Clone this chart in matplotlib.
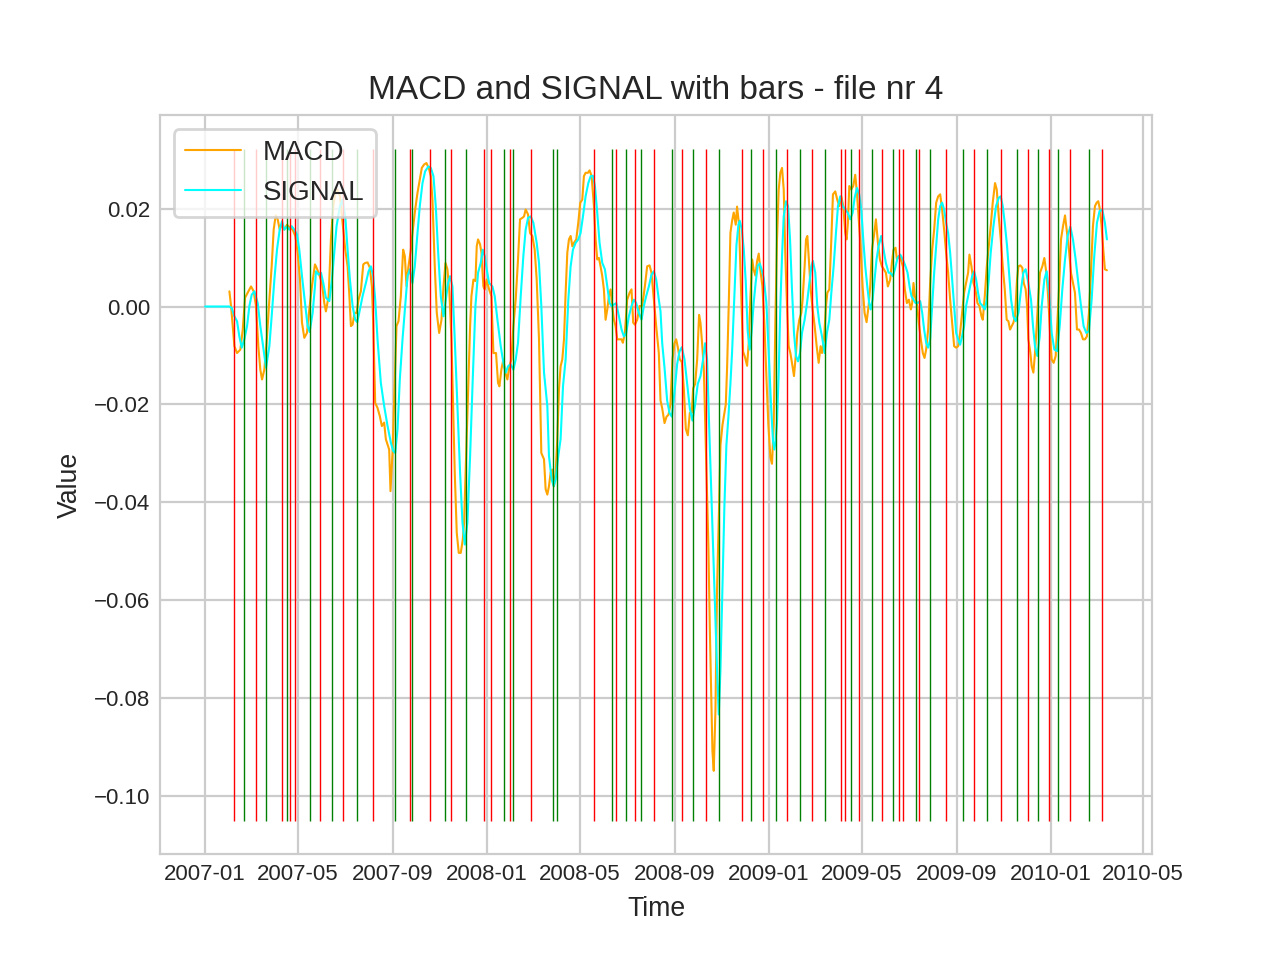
import numpy as np
import pandas as pd
import matplotlib
matplotlib.use("Agg")
import matplotlib.pyplot as plt
import matplotlib.dates as mdates
import seaborn as sns

# ---------------- data (day offsets from 2007-01-01, values) ----------------
START = "2007-01-01"

macd_pts = [
    (31.5, 0.0031), (33.7, 0.0), (38.0, -0.0081), (41.4, -0.0095), (45.7, -0.0088), (48.8, -0.0047),
    (51.8, 0.0018), (55.2, 0.0028), (59.5, 0.0041), (63.0, 0.0031), (66.0, 0.0001), (69.0, -0.0081),
    (71.6, -0.0129), (73.8, -0.0149), (76.8, -0.0129), (80.3, -0.0061), (83.3, 0.0014), (86.3, 0.0082),
    (88.9, 0.0157), (91.5, 0.0186), (94.1, 0.0178), (96.7, 0.0157), (99.2, 0.0167), (102.7, 0.0157),
    (106.2, 0.0167), (109.6, 0.0161), (113.5, 0.0157), (116.9, 0.0144), (120.0, 0.0110), (123.0, 0.0055),
    (125.6, -0.0033), (128.6, -0.0064), (132.0, -0.0054), (135.1, -0.0006), (138.5, 0.0041), (142.4, 0.0086),
    (143.7, 0.0082), (147.1, 0.0069), (151.5, 0.0048), (154.5, 0.0007), (156.6, -0.0010), (160.1, 0.0021),
    (163.1, 0.0137), (166.1, 0.0205), (168.7, 0.0229), (171.7, 0.0239), (174.8, 0.0225), (178.2, 0.0171),
    (181.7, 0.0116), (184.7, 0.0082), (186.8, 0.0028), (189.0, -0.0040), (191.2, -0.0037), (193.7, -0.0013),
    (196.3, -0.0013), (198.9, 0.0014), (201.9, 0.0031), (205.0, 0.0086), (207.6, 0.0089), (210.6, 0.0090),
    (213.6, 0.0079), (216.2, 0.0041), (217.9, -0.0033), (220.5, -0.0197), (223.5, -0.0207), (226.5, -0.0224),
    (229.1, -0.0244), (232.1, -0.0237), (234.3, -0.0271), (236.5, -0.0282), (238.6, -0.0292), (240.3, -0.0377),
    (242.9, -0.0299), (245.5, -0.0169), (248.1, -0.0040), (250.7, -0.0030), (253.7, 0.0021), (256.7, 0.0116),
    (258.9, 0.0103), (261.1, 0.0041), (263.6, 0.0082), (266.7, 0.0116), (268.8, 0.0150), (272.3, 0.0198),
    (275.3, 0.0232), (278.3, 0.0259), (280.9, 0.0283), (283.9, 0.0290), (286.9, 0.0293), (290.4, 0.0280),
    (292.6, 0.0266), (294.7, 0.0218), (297.7, 0.0082), (300.3, -0.0013), (303.4, -0.0054), (306.4, -0.0027),
    (309.0, 0.0041), (311.6, 0.0089), (314.1, 0.0076), (316.7, 0.0028), (319.3, -0.0067), (321.5, -0.0203),
    (323.6, -0.0339), (326.2, -0.0462), (328.8, -0.0503), (331.4, -0.0503), (334.0, -0.0476), (335.7, -0.0441),
    (338.3, -0.0305), (340.9, -0.0169), (343.5, -0.0040), (345.2, 0.0021), (347.8, 0.0055), (350.4, 0.0052),
    (352.1, 0.0123), (353.8, 0.0137), (356.4, 0.0127), (358.2, 0.0110), (360.7, 0.0041), (362.5, 0.0035),
    (365.0, 0.0055), (368.1, 0.0035), (371.1, 0.0021), (373.7, -0.0095), (377.1, -0.0095), (379.7, -0.0156),
    (381.5, -0.0163), (384.0, -0.0129), (386.6, -0.0108), (389.2, -0.0135), (391.8, -0.0149), (394.4, -0.0122),
    (397.0, -0.0108), (399.6, -0.0040), (402.6, 0.0014), (405.6, 0.0096), (408.2, 0.0178), (411.2, 0.0181),
    (413.4, 0.0184), (415.5, 0.0198), (418.6, 0.0188), (421.2, 0.0150), (424.2, 0.0144), (427.2, 0.0116),
    (429.8, 0.0055), (432.8, -0.0067), (435.8, -0.0299), (439.3, -0.0312),
    (441.4, -0.0373), (443.6, -0.0384), (445.7, -0.0367), (447.9, -0.0339), (450.1, -0.0333), (452.2, -0.0367),
    (454.4, -0.0339), (456.5, -0.0271), (458.7, -0.0169), (460.8, -0.0122), (463.0, -0.0108), (465.2, -0.0067),
    (467.3, 0.0028), (469.5, 0.0110), (471.6, 0.0137), (473.8, 0.0144), (476.0, 0.0123), (478.1, 0.0130),
    (481.1, 0.0137), (483.7, 0.0171), (486.3, 0.0212), (488.9, 0.0218), (491.0, 0.0266), (493.2, 0.0273),
    (496.2, 0.0273), (498.4, 0.0278), (501.0, 0.0266), (504.0, 0.0205), (506.2, 0.0137), (508.3, 0.0096),
    (510.5, 0.0099), (512.6, 0.0082), (514.8, 0.0062), (516.9, 0.0035), (519.1, -0.0027), (521.3, -0.0006),
    (523.4, 0.0021), (525.6, 0.0035), (527.7, 0.0001), (529.9, -0.0027), (532.0, -0.0040), (534.2, -0.0067),
    (539.8, -0.0067), (541.5, -0.0074), (544.1, -0.0054), (547.1, 0.0014), (550.2, 0.0028), (552.7, 0.0035),
    (554.9, -0.0033), (557.1, -0.0037), (560.1, -0.0027), (563.1, 0.0001), (566.6, 0.0001), (570.0, 0.0041),
    (573.0, 0.0082), (576.1, 0.0084), (578.6, 0.0069), (581.7, 0.0014), (584.7, -0.0040), (588.1, -0.0095),
    (590.3, -0.0192), (592.5, -0.0208), (595.5, -0.0238), (598.1, -0.0225), (600.6, -0.0221), (603.2, -0.0200),
    (605.8, -0.0108), (608.4, -0.0075), (610.6, -0.0067), (612.7, -0.0083), (615.3, -0.0108), (617.9, -0.0113),
    (620.5, -0.0167), (623.1, -0.0250), (625.7, -0.0263), (628.3, -0.0217), (630.8, -0.0217), (632.6, -0.0167),
    (635.2, -0.0158), (637.8, -0.0108), (640.3, -0.0017), (642.1, -0.0033), (644.2, -0.0075), (646.4, -0.0125),
    (649.0, -0.0283), (650.7, -0.0392), (652.4, -0.0492), (654.2, -0.0658), (655.9, -0.0783), (657.6, -0.0908),
    (659.3, -0.0948), (661.5, -0.0825), (663.6, -0.0575), (666.2, -0.0408), (668.0, -0.0283), (670.6, -0.0242),
    (672.3, -0.0225), (674.9, -0.0200), (676.6, -0.0125), (678.8, 0.0008), (680.9, 0.0150), (683.1, 0.0175),
    (685.2, 0.0192), (687.8, 0.0167), (689.5, 0.0204), (692.1, 0.0167), (694.7, 0.0033), (697.3, -0.0092),
    (699.9, -0.0104), (702.5, -0.0121), (704.6, -0.0075), (706.8, 0.0017), (709.0, 0.0096), (711.1, 0.0075),
    (713.3, 0.0063), (715.4, 0.0092), (717.6, 0.0108), (719.7, 0.0075), (722.3, 0.0042), (724.9, -0.0033),
    (727.5, -0.0142), (730.1, -0.0242), (732.7, -0.0308), (734.8, -0.0321), (737.0, -0.0242),
    (739.2, -0.0027), (741.3, 0.0137), (743.5, 0.0239), (745.6, 0.0273), (747.8, 0.0283), (750.0, 0.0239),
    (752.1, 0.0103), (754.3, 0.0001), (756.4, -0.0081), (758.6, -0.0095), (760.7, -0.0115), (763.3, -0.0142),
    (765.9, -0.0095), (767.6, -0.0054), (770.2, -0.0027), (772.8, -0.0013), (774.5, 0.0014), (777.1, 0.0082),
    (778.9, 0.0137), (780.6, 0.0144), (782.3, 0.0103), (784.9, 0.0035), (787.5, -0.0006), (790.1, -0.0040),
    (792.7, -0.0081), (795.3, -0.0115), (797.8, -0.0081), (799.6, -0.0095), (802.2, -0.0067), (804.8, 0.0001),
    (806.5, 0.0028), (809.1, 0.0035), (811.7, 0.0137), (813.8, 0.0229), (816.8, 0.0235), (819.4, 0.0218),
    (822.0, 0.0205), (824.6, 0.0225), (827.2, 0.0205), (829.8, 0.0150), (831.5, 0.0137), (833.2, 0.0171),
    (835.0, 0.0246), (837.5, 0.0239), (840.1, 0.0246), (842.7, 0.0269), (844.9, 0.0232), (847.0, 0.0184),
    (849.6, 0.0123), (852.2, 0.0041), (854.8, -0.0013), (857.4, -0.0032), (860.0, 0.0001), (862.1, 0.0041),
    (864.3, 0.0116), (866.9, 0.0144), (869.5, 0.0178), (872.1, 0.0130), (874.7, 0.0096), (877.2, 0.0082),
    (879.8, 0.0076), (882.4, 0.0069), (885.0, 0.0041),
    (888.0, 0.0055), (890.2, 0.0089), (892.3, 0.0116), (894.9, 0.0120), (896.7, 0.0096), (899.3, 0.0103),
    (901.8, 0.0096), (904.4, 0.0082), (907.0, 0.0035), (909.6, 0.0007), (912.2, 0.0014), (914.8, -0.0006),
    (916.5, 0.0007), (918.2, 0.0048), (919.9, 0.0021), (922.6, 0.0007), (925.1, -0.0033), (927.7, -0.0067),
    (930.3, -0.0095), (932.5, -0.0105), (934.6, -0.0088), (937.2, -0.0047), (939.8, 0.0048), (942.4, 0.0116),
    (945.0, 0.0157), (947.6, 0.0212), (950.2, 0.0225), (952.8, 0.0229), (955.3, 0.0198), (957.9, 0.0157),
    (960.5, 0.0110), (963.1, 0.0069), (965.7, 0.0014), (968.3, -0.0033), (970.9, -0.0081), (973.5, -0.0084),
    (976.1, -0.0081), (978.6, -0.0054), (981.2, -0.0013), (983.8, 0.0028), (986.4, 0.0048), (989.0, 0.0069),
    (990.7, 0.0106), (993.3, 0.0082), (995.9, 0.0048), (998.5, 0.0035), (1001.1, 0.0007), (1003.7, 0.0001),
    (1006.3, -0.0020), (1008.0, -0.0027), (1010.6, 0.0021), (1013.2, 0.0082), (1015.8, 0.0123), (1018.3, 0.0164),
    (1020.9, 0.0212), (1023.9, 0.0252), (1026.1, 0.0239), (1028.7, 0.0184), (1031.3, 0.0137), (1033.9, 0.0082),
    (1036.5, 0.0035),
    (1039.0, -0.0027), (1041.2, -0.0030), (1043.4, -0.0047), (1045.5, -0.0040), (1047.7, -0.0033), (1049.8, -0.0020),
    (1052.4, 0.0055), (1054.2, 0.0082), (1056.7, 0.0084), (1059.3, 0.0079), (1061.1, 0.0048), (1063.6, 0.0035),
    (1065.4, 0.0001), (1067.1, -0.0067), (1069.7, -0.0095), (1071.4, -0.0122), (1073.6, -0.0135), (1075.7, -0.0095),
    (1077.9, -0.0040), (1080.0, 0.0021), (1082.2, 0.0069), (1085.2, 0.0082), (1087.8, 0.0099), (1090.4, 0.0069),
    (1092.1, 0.0035), (1093.9, -0.0013), (1095.6, -0.0067), (1097.3, -0.0108), (1099.9, -0.0115), (1102.5, -0.0101),
    (1104.2, -0.0047), (1106.8, 0.0035), (1109.4, 0.0137), (1112.0, 0.0164), (1114.6, 0.0186), (1117.2, 0.0150),
    (1119.7, 0.0116), (1122.3, 0.0069), (1124.9, 0.0048), (1127.5, 0.0028), (1130.1, -0.0047), (1132.7, -0.0047),
    (1135.3, -0.0054), (1137.9, -0.0067), (1140.5, -0.0067), (1143.0, -0.0061), (1145.6, -0.0013), (1148.2, 0.0069),
    (1150.8, 0.0164), (1153.4, 0.0205), (1155.6, 0.0212), (1157.7, 0.0215), (1159.9, 0.0198), (1162.0, 0.0164),
    (1164.2, 0.0116), (1166.3, 0.0076), (1168.9, 0.0074),
]

signal_pts = [
    (0.0, 0.0), (31.5, 0.0), (34.5, -0.0003), (38.0, -0.0020), (41.4, -0.0030), (44.4, -0.0061), (47.5, -0.0084),
    (50.9, -0.0067), (54.4, -0.0040), (57.4, 0.0001), (60.4, 0.0024), (63.9, 0.0031), (68.2, 0.0007),
    (71.6, -0.0040), (75.1, -0.0081), (79.0, -0.0125), (83.3, -0.0081), (86.3, -0.0020), (89.8, 0.0055),
    (93.2, 0.0116), (96.7, 0.0157), (99.7, 0.0174), (102.7, 0.0157), (106.2, 0.0163), (109.2, 0.0157),
    (112.2, 0.0164), (115.6, 0.0157), (119.1, 0.0147), (122.1, 0.0116), (125.6, 0.0062), (129.5, 0.0007),
    (132.9, -0.0040), (135.5, -0.0052), (139.4, -0.0013), (142.4, 0.0041),
    (143.7, 0.0072), (147.1, 0.0065), (150.2, 0.0069), (153.2, 0.0048), (156.6, 0.0018), (161.0, 0.0011),
    (164.4, 0.0055), (167.4, 0.0110), (170.4, 0.0164), (174.8, 0.0205), (178.2, 0.0218), (181.7, 0.0184),
    (184.7, 0.0116), (187.7, 0.0055), (191.2, 0.0001), (194.6, -0.0027), (197.2, -0.0032), (200.7, -0.0006),
    (204.1, 0.0021), (208.4, 0.0048), (211.9, 0.0072), (214.9, 0.0082), (217.9, 0.0062), (220.5, 0.0014),
    (223.5, -0.0067), (227.8, -0.0156), (232.1, -0.0203), (236.5, -0.0244), (240.8, -0.0278), (243.8, -0.0295),
    (246.4, -0.0299), (249.4, -0.0251), (252.4, -0.0149), (255.9, -0.0067), (259.3, 0.0001), (262.4, 0.0062),
    (265.4, 0.0076), (268.8, 0.0048), (271.8, 0.0082), (275.3, 0.0150), (278.3, 0.0205), (281.8, 0.0252),
    (285.2, 0.0276), (289.5, 0.0286),
    (292.6, 0.0283), (296.0, 0.0266), (299.0, 0.0205), (302.1, 0.0110), (305.5, 0.0021), (309.0, -0.0020),
    (312.0, 0.0014), (315.0, 0.0048), (317.6, 0.0062), (320.6, 0.0041), (323.6, -0.0067), (327.1, -0.0203),
    (330.5, -0.0339), (333.6, -0.0441), (336.6, -0.0486), (340.0, -0.0441), (343.5, -0.0305), (346.9, -0.0149),
    (350.4, 0.0001), (353.8, 0.0069), (357.3, 0.0089), (359.9, 0.0116), (362.5, 0.0103), (365.0, 0.0076),
    (368.1, 0.0048), (372.4, 0.0041), (375.4, 0.0021), (378.9, -0.0027), (383.2, -0.0081), (386.6, -0.0115),
    (389.7, -0.0135), (392.7, -0.0122), (396.1, -0.0118), (399.6, -0.0129), (402.6, -0.0108), (405.6, -0.0074),
    (409.1, 0.0021), (412.5, 0.0103), (415.5, 0.0157), (418.6, 0.0181), (422.0, 0.0184), (425.5, 0.0171),
    (429.8, 0.0130), (432.8, 0.0089), (435.8, 0.0001), (439.3, -0.0135),
    (443.6, -0.0203), (445.7, -0.0305), (449.2, -0.0353), (451.8, -0.0367), (454.4, -0.0353), (457.8, -0.0305),
    (460.8, -0.0271), (463.9, -0.0163), (467.3, -0.0108), (470.8, 0.0014), (473.8, 0.0082), (476.8, 0.0116),
    (480.3, 0.0130), (483.7, 0.0137), (486.7, 0.0150), (489.8, 0.0184), (493.2, 0.0225), (496.7, 0.0252),
    (499.7, 0.0266), (502.7, 0.0267), (505.3, 0.0246), (508.3, 0.0191), (511.3, 0.0130), (514.8, 0.0089),
    (518.2, 0.0076), (521.3, 0.0041), (524.3, 0.0007), (526.9, 0.0001), (529.9, 0.0004), (532.9, 0.0007),
    (536.4, -0.0020), (539.8, -0.0047), (542.8, -0.0061), (545.8, -0.0054), (549.3, -0.0020), (552.7, 0.0001),
    (555.8, 0.0014), (558.8, 0.0007), (562.2, -0.0013), (565.7, -0.0027), (568.7, 0.0001), (571.7, 0.0021),
    (575.2, 0.0041), (578.6, 0.0065), (581.7, 0.0072), (584.7, 0.0055), (588.1, 0.0014),
    (590.3, -0.0010), (592.5, -0.0075), (595.5, -0.0125), (598.9, -0.0192), (601.9, -0.0217), (605.0, -0.0225),
    (608.4, -0.0175), (611.9, -0.0117), (614.9, -0.0092), (617.9, -0.0083), (621.4, -0.0108), (624.8, -0.0158),
    (628.3, -0.0208), (631.7, -0.0233), (635.2, -0.0200), (638.6, -0.0158), (642.1, -0.0142), (645.5, -0.0108),
    (648.1, -0.0075), (650.7, -0.0108), (653.3, -0.0242), (655.9, -0.0367), (658.5, -0.0492), (661.1, -0.0617),
    (663.6, -0.0742), (665.8, -0.0833), (668.0, -0.0742), (670.6, -0.0575), (673.1, -0.0408), (675.7, -0.0283),
    (678.3, -0.0225), (680.9, -0.0158), (683.1, -0.0092), (686.1, 0.0025), (688.7, 0.0125), (691.3, 0.0167),
    (693.0, 0.0175), (695.6, 0.0158), (698.2, 0.0117), (700.8, 0.0050), (703.3, -0.0050), (705.9, -0.0088),
    (708.5, -0.0050), (711.1, 0.0008), (713.7, 0.0050), (716.3, 0.0083), (718.9, 0.0088), (721.5, 0.0075),
    (724.1, 0.0058), (727.5, 0.0008), (730.5, -0.0092), (733.5, -0.0200), (736.1, -0.0275), (737.8, -0.0292),
    (739.2, -0.0278), (741.3, -0.0237), (743.5, -0.0135), (745.6, 0.0001), (747.8, 0.0103), (750.0, 0.0184),
    (753.0, 0.0215), (755.6, 0.0205), (758.2, 0.0137), (760.7, 0.0035), (763.3, -0.0054), (765.9, -0.0101),
    (768.5, -0.0112), (771.1, -0.0095), (773.7, -0.0054), (777.1, -0.0027), (780.2, 0.0007), (783.2, 0.0048),
    (785.8, 0.0082), (787.9, 0.0093), (790.9, 0.0069), (793.5, 0.0001), (796.1, -0.0033), (799.6, -0.0061),
    (803.0, -0.0095), (806.0, -0.0054), (809.1, -0.0027), (811.7, 0.0028), (814.7, 0.0082), (817.7, 0.0150),
    (820.3, 0.0205), (823.3, 0.0225), (826.3, 0.0205), (829.8, 0.0198), (833.2, 0.0191), (836.2, 0.0178),
    (839.3, 0.0191), (841.9, 0.0222), (844.9, 0.0242), (847.9, 0.0229), (850.5, 0.0198), (853.1, 0.0137),
    (855.7, 0.0082), (858.3, 0.0041), (860.8, 0.0007), (862.6, -0.0006), (865.2, 0.0014), (867.8, 0.0055),
    (870.3, 0.0096), (872.9, 0.0123), (876.4, 0.0144), (879.4, 0.0116), (882.4, 0.0089), (885.9, 0.0069),
    (888.0, 0.0069), (891.5, 0.0062), (894.1, 0.0076), (897.5, 0.0099), (901.0, 0.0106), (904.4, 0.0096),
    (907.9, 0.0082), (910.5, 0.0069), (913.1, 0.0041), (915.6, 0.0021), (918.2, 0.0014), (920.8, 0.0007),
    (923.4, 0.0007), (926.9, 0.0011), (929.5, -0.0013), (932.0, -0.0047), (934.6, -0.0074), (937.2, -0.0084),
    (939.8, -0.0067), (942.4, 0.0001), (945.0, 0.0069), (947.6, 0.0123), (950.2, 0.0178), (952.8, 0.0205),
    (955.3, 0.0212), (957.9, 0.0198), (960.5, 0.0171), (963.1, 0.0150), (965.7, 0.0110), (968.3, 0.0055),
    (970.9, 0.0001), (973.5, -0.0054), (976.1, -0.0067), (978.6, -0.0078), (981.2, -0.0061), (983.8, -0.0040),
    (986.4, 0.0001), (989.0, 0.0021), (991.6, 0.0041), (994.2, 0.0062), (996.8, 0.0072), (999.4, 0.0055),
    (1001.9, 0.0028), (1004.5, 0.0007), (1008.0, 0.0001), (1010.6, -0.0006), (1013.2, 0.0014), (1015.8, 0.0055),
    (1018.3, 0.0110), (1021.8, 0.0164), (1025.2, 0.0205), (1028.7, 0.0222), (1031.3, 0.0225), (1033.9, 0.0205),
    (1036.5, 0.0170),
    (1039.5, 0.0123), (1042.1, 0.0069), (1044.7, 0.0014), (1047.7, -0.0020), (1050.7, -0.0030), (1054.2, -0.0013),
    (1057.6, 0.0035), (1060.6, 0.0069), (1063.6, 0.0076), (1067.1, 0.0048), (1070.5, 0.0014), (1073.1, -0.0040),
    (1075.7, -0.0081), (1078.7, -0.0101), (1081.8, -0.0061), (1084.4, 0.0001), (1087.8, 0.0055), (1090.8, 0.0072),
    (1093.9, 0.0028), (1097.3, -0.0054), (1100.8, -0.0088), (1104.2, -0.0091), (1107.7, -0.0040), (1111.1, 0.0035),
    (1114.6, 0.0096), (1118.0, 0.0144), (1121.5, 0.0163), (1124.9, 0.0137), (1128.4, 0.0096), (1131.8, 0.0048),
    (1135.3, 0.0001), (1138.7, -0.0040), (1142.2, -0.0054), (1145.6, -0.0050), (1149.1, 0.0014), (1152.5, 0.0103),
    (1156.0, 0.0171), (1159.4, 0.0195), (1162.9, 0.0198), (1166.3, 0.0171), (1168.9, 0.0137),
]

sell_days = [37, 66, 100, 110, 116, 149, 179, 217, 265, 292, 319, 362, 371, 395, 422, 504, 532, 557,
             582, 618, 649, 696, 723, 754, 787, 824, 829, 848, 877, 900, 905, 925, 960, 997, 1032,
             1066, 1094, 1121, 1163]
buy_days = [50, 79, 106, 136, 164, 197, 246, 268, 311, 338, 388, 399, 451, 456, 527, 545, 565, 605,
            633, 666, 707, 740, 771, 803, 837, 864, 892, 921, 939, 982, 1013, 1052, 1079, 1106, 1146]

labels = ["MACD", "SIGNAL"]
title = "MACD and SIGNAL with bars - file nr 4"

# ---------------- drawing ----------------
sns.set_style("whitegrid")
plt.rcParams["font.family"] = ["Liberation Sans", "DejaVu Sans"]

start = pd.Timestamp(START)


def to_dates(days):
    return start + pd.to_timedelta(np.asarray(days, dtype=float), unit="D")


macd_arr = np.array(macd_pts)
sig_arr = np.array(signal_pts)

fig, ax = plt.subplots(figsize=(6.4, 4.8), dpi=200)
ax.plot(to_dates(macd_arr[:, 0]), macd_arr[:, 1], color="orange", lw=0.75, label=labels[0])
ax.plot(to_dates(sig_arr[:, 0]), sig_arr[:, 1], color="cyan", lw=0.75, label=labels[1])

bar_lo, bar_hi = -0.105, 0.0322
ax.vlines(to_dates(sell_days), bar_lo, bar_hi, colors="red", lw=0.5)
ax.vlines(to_dates(buy_days), bar_lo, bar_hi, colors="green", lw=0.5)

ax.xaxis.set_major_locator(mdates.MonthLocator(bymonth=[1, 5, 9]))
ax.xaxis.set_major_formatter(mdates.DateFormatter("%Y-%m"))
ax.tick_params(axis="both", labelsize=8, length=0, pad=3.5)

ax.set_title(title, fontsize=12)
ax.set_xlabel("Time", fontsize=9.6)
ax.set_ylabel("Value", fontsize=9.6)
ax.legend(loc="upper left", fontsize=10)

fig.savefig("out.png", dpi=200)
